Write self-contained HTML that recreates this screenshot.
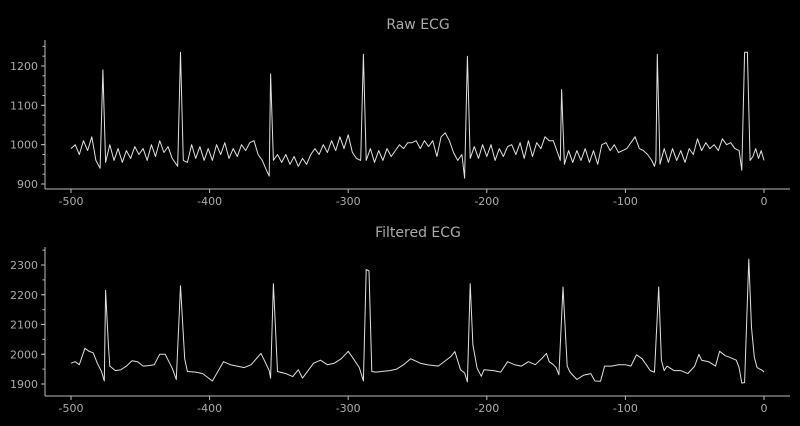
<!DOCTYPE html>
<html><head><meta charset="utf-8"><style>
html,body{margin:0;padding:0;background:#000;}
svg{display:block;font-family:"DejaVu Sans","Liberation Sans",sans-serif;}
</style></head><body>
<svg id="chart" width="800" height="426" viewBox="0 0 800 426">
<rect width="800" height="426" fill="#000"/>
<text x="418" y="29" fill="#aaa" font-size="14" text-anchor="middle">Raw ECG</text>
<text x="418" y="237" fill="#aaa" font-size="14" text-anchor="middle">Filtered ECG</text>
<g id="raw"></g>
<g id="filt"></g>
</svg>
<script>
const xTicks=[-500,-400,-300,-200,-100,0];
const rawYTicks=[900,1000,1100,1200];
const filtYTicks=[1900,2000,2100,2200,2300];
const rawT=[-500,-497,-494,-491,-488,-485,-482,-479,-477,-475,-472,-469,-466,-463,-460,-457,-454,-451,-448,-445,-442,-439,-436,-433,-430,-427,-424,-423,-421,-419,-416,-413,-410,-407,-404,-401,-398,-395,-392,-389,-386,-383,-380,-377,-374,-371,-368,-365,-362,-359,-357,-356,-354,-351,-348,-345,-342,-339,-336,-333,-330,-327,-324,-321,-318,-315,-312,-309,-306,-303,-300,-297,-294,-291,-289,-287,-284,-281,-278,-275,-272,-269,-266,-263,-260,-257,-254,-251,-248,-245,-242,-239,-236,-233,-230,-227,-224,-221,-218,-216,-214,-212,-209,-206,-203,-200,-197,-194,-191,-188,-185,-182,-179,-176,-173,-170,-167,-164,-161,-158,-155,-152,-149,-147,-146,-144,-141,-138,-135,-132,-129,-126,-123,-120,-117,-114,-111,-108,-105,-102,-99,-96,-93,-90,-87,-84,-81,-79,-78,-77,-75,-72,-69,-66,-63,-60,-57,-54,-51,-48,-45,-42,-39,-36,-33,-30,-27,-24,-21,-18,-16,-14,-12,-10,-8,-6,-4,-2,0];
const rawV=[990,1000,975,1010,985,1020,960,940,1190,955,1000,960,990,955,985,965,995,975,990,960,1000,970,1010,980,995,965,950,945,1235,960,955,1000,965,995,960,990,960,1000,975,1005,965,990,970,1000,985,1005,1010,975,960,935,920,1180,960,975,955,975,950,970,945,965,950,975,990,975,1000,980,1010,985,1020,990,1025,980,965,960,1230,960,990,955,985,960,990,970,985,1000,990,1005,1005,1010,990,1010,995,1010,970,1020,1030,1010,980,960,975,915,1225,965,995,965,1000,970,1000,960,990,970,995,1000,975,1005,965,1010,970,1005,990,1020,1010,1010,980,960,1140,950,985,955,985,960,990,955,985,950,1000,1005,985,1000,980,985,990,1005,1020,990,985,975,960,945,960,1230,950,990,955,990,960,985,955,990,975,1015,985,1005,990,1000,985,1015,1000,1005,990,985,935,1235,1235,960,970,990,965,985,960];
const filtT=[-500,-497,-494,-490,-487,-484,-481,-478,-476,-475,-473,-472,-468,-464,-460,-456,-452,-448,-444,-440,-436,-432,-427,-424,-421,-418,-416,-410,-405,-398,-390,-385,-375,-370,-363,-360,-357,-356,-354,-351,-345,-340,-336,-333,-325,-320,-315,-310,-305,-300,-297,-292,-289,-287,-285,-283,-280,-270,-265,-260,-255,-248,-243,-235,-226,-223,-219,-216,-214,-212,-210,-207,-204,-202,-195,-190,-185,-180,-175,-170,-165,-160,-157,-155,-152,-150,-148,-145,-142,-140,-135,-130,-125,-122,-118,-115,-110,-105,-100,-96,-92,-88,-85,-82,-79,-76,-74,-72,-70,-65,-60,-55,-50,-47,-45,-40,-35,-32,-28,-25,-20,-18,-16,-14,-11,-9,-7,-5,-3,-1,0];
const filtV=[1970,1975,1965,2020,2010,2005,1970,1942,1910,2215,2030,1960,1945,1948,1960,1978,1975,1960,1962,1965,2000,2000,1953,1915,2230,1985,1942,1940,1935,1910,1975,1965,1955,1965,2003,1975,1945,1920,2237,1942,1935,1925,1948,1920,1970,1980,1965,1970,1985,2010,1990,1955,1910,2285,2280,1942,1940,1945,1950,1965,1985,1970,1965,1960,1992,2009,1948,1937,1907,2237,2031,1953,1926,1948,1945,1940,1975,1965,1960,1975,1965,1987,2003,1975,1965,1955,1931,2226,1960,1940,1915,1930,1935,1910,1909,1960,1960,1965,1965,1960,1998,1985,1965,1945,1940,2226,1980,1945,1960,1945,1945,1935,1960,2000,1980,1975,1960,2010,1995,1990,1980,1955,1903,1905,2320,2090,1990,1955,1950,1945,1940];

const NS='http://www.w3.org/2000/svg';
function mk(tag,attrs,parent){const e=document.createElementNS(NS,tag);for(const k in attrs)e.setAttribute(k,attrs[k]);parent.appendChild(e);return e;}
function xScale(t){return 764+(t*693/500);}
function panel(g,yTop,yBot,vAtRef,yRef,pxPerUnit,yTicks,minorStep,T,V,prefix){
  const ys=v=>yRef-(v-vAtRef)*pxPerUnit;
  const ax=mk('line',{x1:45,y1:yTop,x2:45,y2:yBot,stroke:'#bbb','stroke-width':1},g);
  
  
  const bx=mk('line',{x1:45,y1:yBot,x2:790,y2:yBot,stroke:'#bbb','stroke-width':1},g);
  
  
  const lo=yTicks[0]-100,hi=yTicks[yTicks.length-1]+100;
  for(let v=lo;v<=hi;v+=minorStep){const y=ys(v);if(y<yTop||y>yBot)continue;
    const m=mk('line',{x1:42.5,y1:y,x2:45,y2:y,stroke:'#bbb','stroke-width':1},g);
    
    }
  yTicks.forEach(v=>{const y=ys(v);
    const l=mk('line',{x1:41,y1:y,x2:45,y2:y,stroke:'#bbb','stroke-width':1},g);
    
    
    const t=mk('text',{x:38,y:y+4,fill:'#aaa','font-size':11,'text-anchor':'end'},g);t.textContent=v;
    
    });
  xTicks.forEach(v=>{const x=xScale(v);
    const l=mk('line',{x1:x,y1:yBot,x2:x,y2:yBot+4,stroke:'#bbb','stroke-width':1},g);
    
    
    const t=mk('text',{x:x,y:yBot+16,fill:'#aaa','font-size':11,'text-anchor':'middle'},g);t.textContent=v;
    
    });
  let d='';T.forEach((t,i)=>{d+=(i?'L':'M')+xScale(t).toFixed(1)+' '+ys(V[i]).toFixed(1);});
  const p=mk('path',{d:d,fill:'none',stroke:'#e0e0e0','stroke-width':1,'stroke-linejoin':'round'},g);
  
  
}
panel(document.getElementById('raw'),40,189,1200,66,118/300,rawYTicks,25,rawT,rawV,'raw');
panel(document.getElementById('filt'),247,396,2300,265,119/400,filtYTicks,50,filtT,filtV,'filtered');
</script>
</body></html>
